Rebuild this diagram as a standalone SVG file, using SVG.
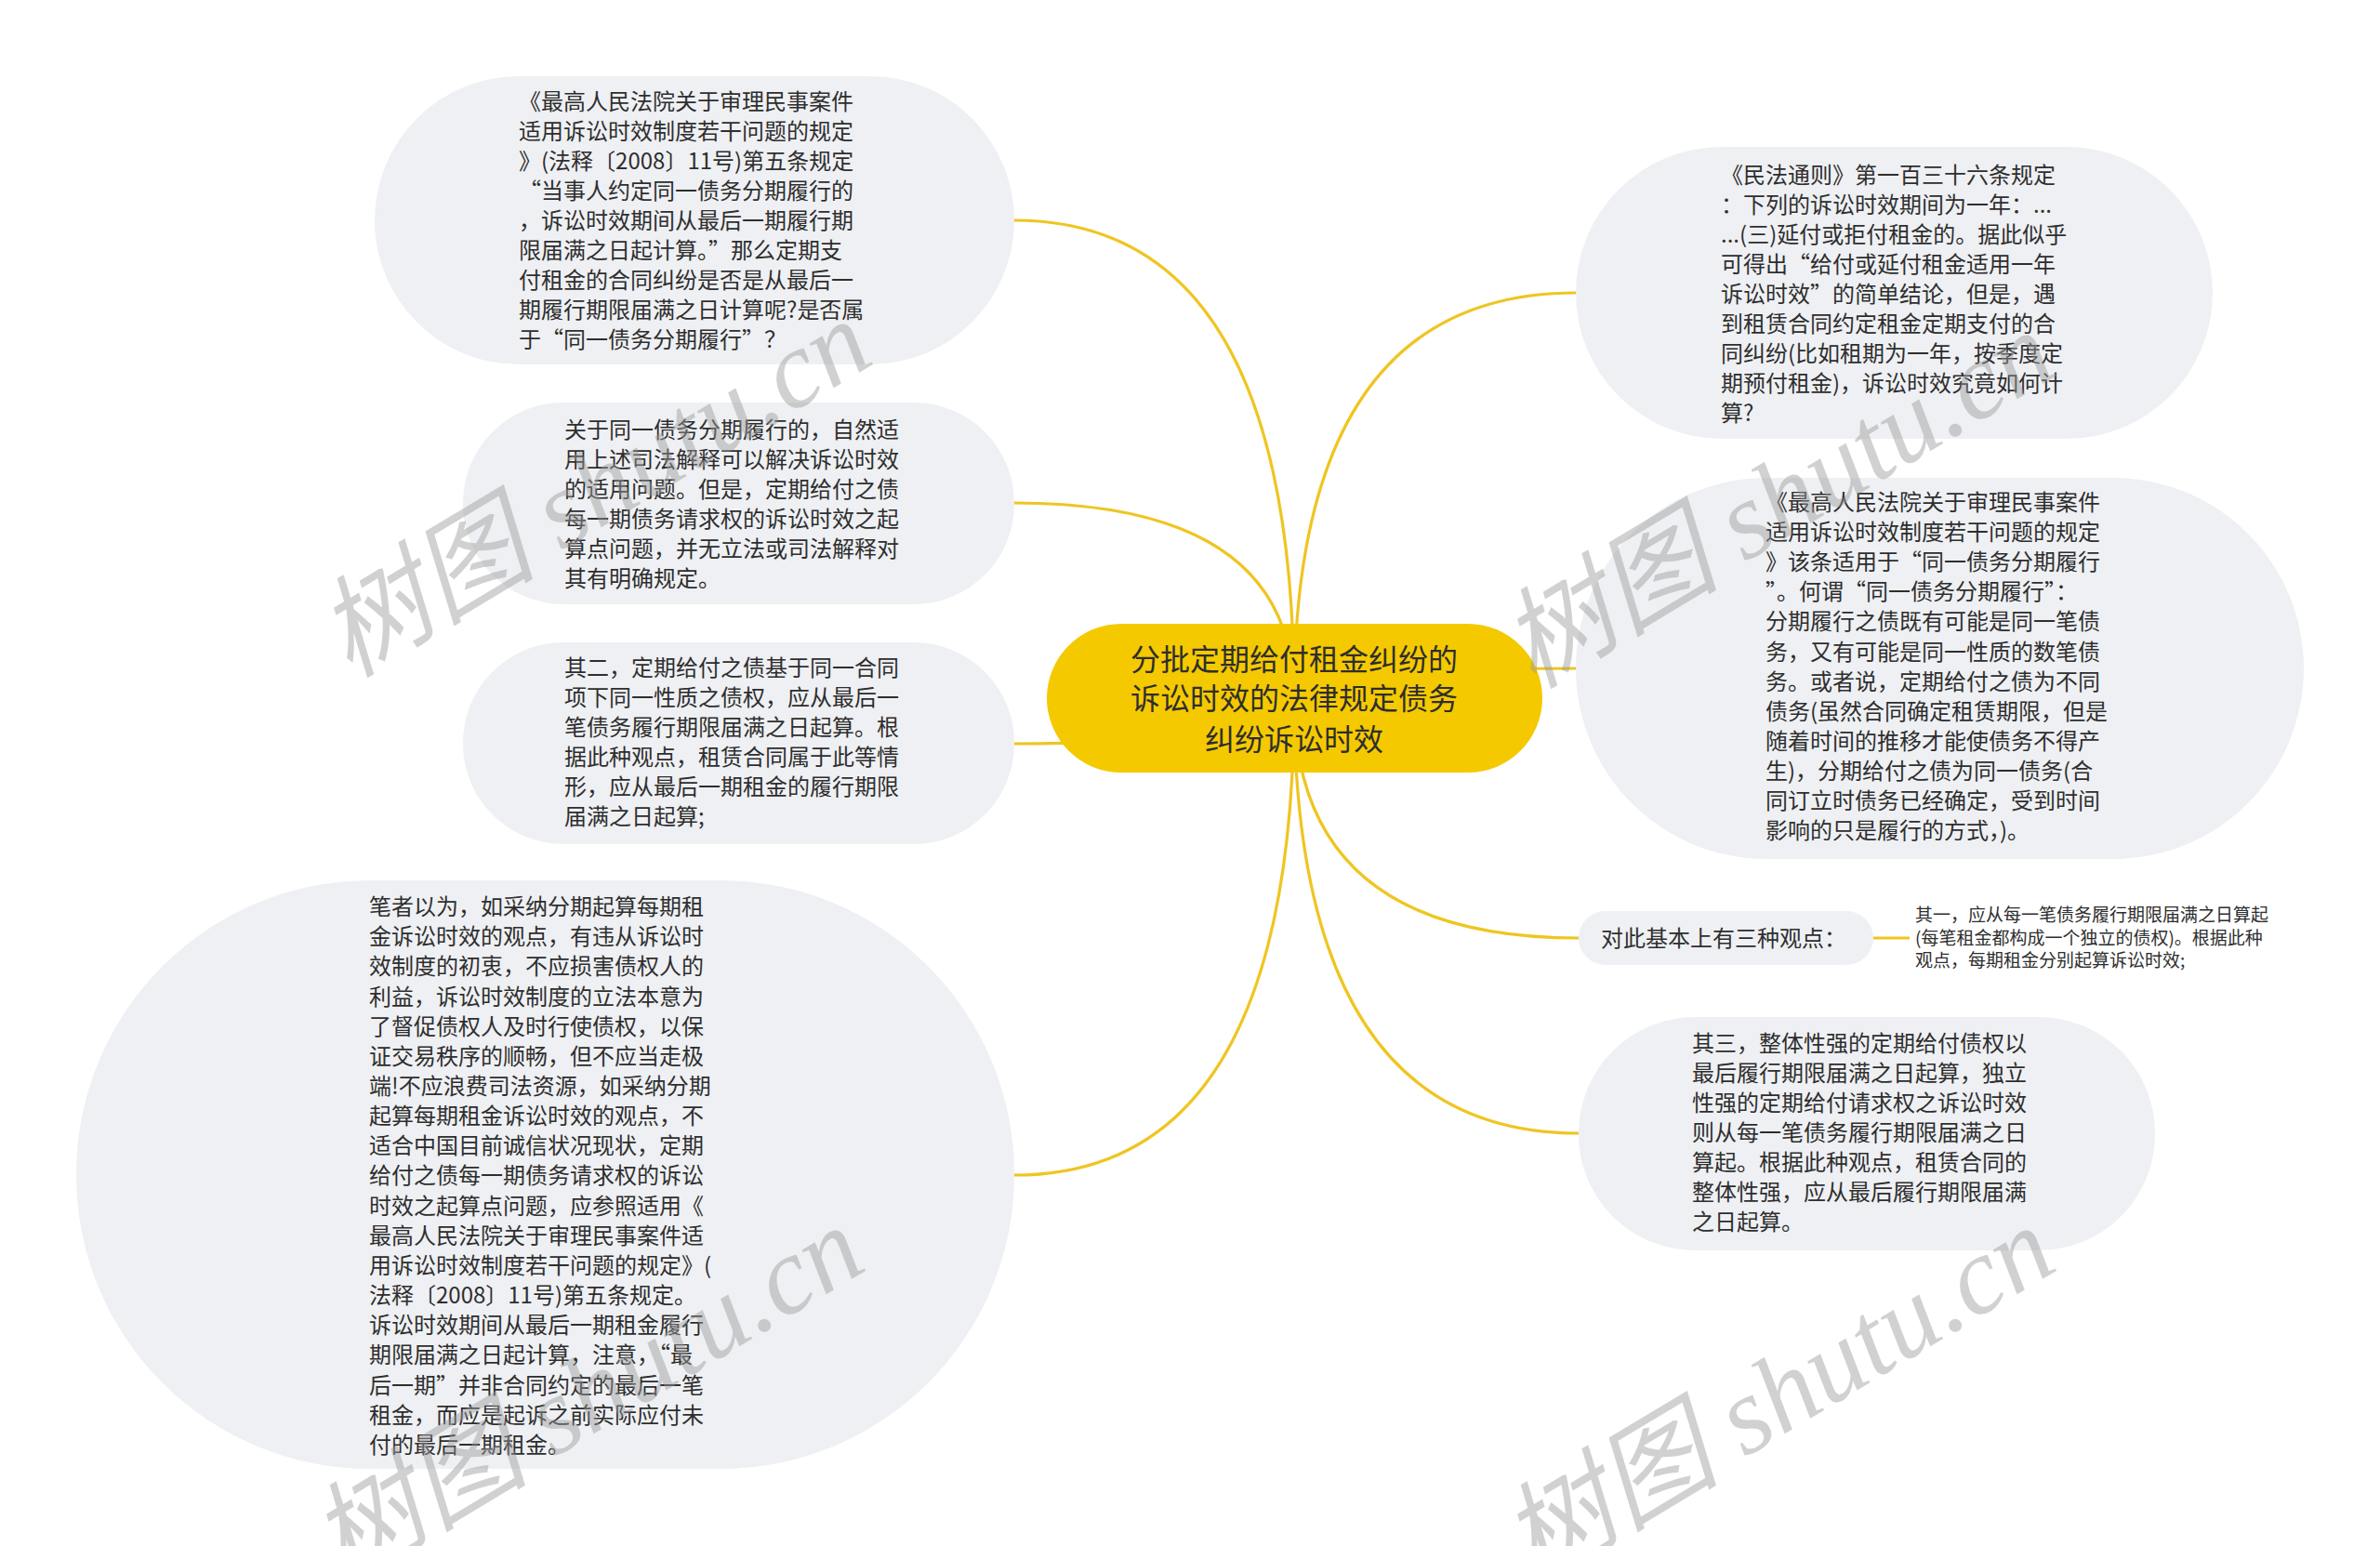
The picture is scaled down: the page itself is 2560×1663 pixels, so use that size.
<svg xmlns="http://www.w3.org/2000/svg" width="2560" height="1663" viewBox="0 0 2560 1663">
<style>
.bg{fill:#ffffff}
.node{fill:#eef0f3}
.root{fill:#f5c900}
.link{fill:none;stroke:#efc521;stroke-width:3.2}
.t{font-family:"Noto Sans CJK SC","Noto Sans",sans-serif;font-size:24px;fill:#2e2e2e}
.rt{font-family:"Noto Sans CJK SC","Noto Sans",sans-serif;font-size:32px;fill:#2e2e2e;text-anchor:middle}
.st{font-family:"Noto Sans CJK SC","Noto Sans",sans-serif;font-size:19px;fill:#2e2e2e}
.wm{font-family:"Liberation Serif","Noto Sans CJK SC",serif;font-style:italic;font-size:118px;fill:#9a9a9a;fill-opacity:0.45}
</style>
<rect class="bg" x="0" y="0" width="2560" height="1663"/>
<g id="connectors">
<path class="link" d="M1392 751 Q1392 237 1091 237"/>
<path class="link" d="M1392 751 Q1392 541 1091 541"/>
<path class="link" d="M1392 751 Q1392 800 1091 800"/>
<path class="link" d="M1392 751 Q1392 1264 1091 1264"/>
<path class="link" d="M1392 751 Q1392 315 1695 315"/>
<path class="link" d="M1392 751 Q1392 719 1695 719"/>
<path class="link" d="M1392 751 Q1392 1009 1698 1009"/>
<path class="link" d="M1392 751 Q1392 1219 1698 1219"/>
<path class="link" d="M2015 1009 L2054 1009"/>
</g>
<g id="root">
<rect class="root" x="1126" y="671" width="533" height="160" rx="80" ry="80"/>
<text class="rt" x="1392" y="721">分批定期给付租金纠纷的</text>
<text class="rt" x="1392" y="763">诉讼时效的法律规定债务</text>
<text class="rt" x="1392" y="807">纠纷诉讼时效</text>
</g>
<g id="n1">
<rect class="node" x="403" y="82" width="688" height="310" rx="155" ry="155"/>
<text class="t" x="558" y="118">《最高人民法院关于审理民事案件</text>
<text class="t" x="558" y="150">适用诉讼时效制度若干问题的规定</text>
<text class="t" x="558" y="182">》(法释〔2008〕11号)第五条规定</text>
<text class="t" x="558" y="214">“当事人约定同一债务分期履行的</text>
<text class="t" x="558" y="246">，诉讼时效期间从最后一期履行期</text>
<text class="t" x="558" y="278">限届满之日起计算。”那么定期支</text>
<text class="t" x="558" y="310">付租金的合同纠纷是否是从最后一</text>
<text class="t" x="558" y="342">期履行期限届满之日计算呢?是否属</text>
<text class="t" x="558" y="374">于“同一债务分期履行”？</text>
</g>
<g id="n2">
<rect class="node" x="498" y="433" width="593" height="217" rx="108" ry="108"/>
<text class="t" x="607" y="471">关于同一债务分期履行的，自然适</text>
<text class="t" x="607" y="503">用上述司法解释可以解决诉讼时效</text>
<text class="t" x="607" y="535">的适用问题。但是，定期给付之债</text>
<text class="t" x="607" y="567">每一期债务请求权的诉讼时效之起</text>
<text class="t" x="607" y="599">算点问题，并无立法或司法解释对</text>
<text class="t" x="607" y="631">其有明确规定。</text>
</g>
<g id="n3">
<rect class="node" x="498" y="691" width="593" height="217" rx="108" ry="108"/>
<text class="t" x="607" y="727">其二，定期给付之债基于同一合同</text>
<text class="t" x="607" y="759">项下同一性质之债权，应从最后一</text>
<text class="t" x="607" y="791">笔债务履行期限届满之日起算。根</text>
<text class="t" x="607" y="823">据此种观点，租赁合同属于此等情</text>
<text class="t" x="607" y="855">形，应从最后一期租金的履行期限</text>
<text class="t" x="607" y="887">届满之日起算;</text>
</g>
<g id="n4">
<rect class="node" x="82" y="947" width="1009" height="633" rx="316" ry="316"/>
<text class="t" x="397" y="984">笔者以为，如采纳分期起算每期租</text>
<text class="t" x="397" y="1016">金诉讼时效的观点，有违从诉讼时</text>
<text class="t" x="397" y="1048">效制度的初衷，不应损害债权人的</text>
<text class="t" x="397" y="1081">利益，诉讼时效制度的立法本意为</text>
<text class="t" x="397" y="1113">了督促债权人及时行使债权，以保</text>
<text class="t" x="397" y="1145">证交易秩序的顺畅，但不应当走极</text>
<text class="t" x="397" y="1177">端!不应浪费司法资源，如采纳分期</text>
<text class="t" x="397" y="1209">起算每期租金诉讼时效的观点，不</text>
<text class="t" x="397" y="1241">适合中国目前诚信状况现状，定期</text>
<text class="t" x="397" y="1273">给付之债每一期债务请求权的诉讼</text>
<text class="t" x="397" y="1306">时效之起算点问题，应参照适用《</text>
<text class="t" x="397" y="1338">最高人民法院关于审理民事案件适</text>
<text class="t" x="397" y="1370">用诉讼时效制度若干问题的规定》(</text>
<text class="t" x="397" y="1402">法释〔2008〕11号)第五条规定。</text>
<text class="t" x="397" y="1434">诉讼时效期间从最后一期租金履行</text>
<text class="t" x="397" y="1466">期限届满之日起计算，注意，“最</text>
<text class="t" x="397" y="1499">后一期”并非合同约定的最后一笔</text>
<text class="t" x="397" y="1531">租金，而应是起诉之前实际应付未</text>
<text class="t" x="397" y="1563">付的最后一期租金。</text>
</g>
<g id="n5">
<rect class="node" x="1695" y="158" width="685" height="314" rx="157" ry="157"/>
<text class="t" x="1851" y="197">《民法通则》第一百三十六条规定</text>
<text class="t" x="1851" y="229">：下列的诉讼时效期间为一年：...</text>
<text class="t" x="1851" y="261">...(三)延付或拒付租金的。据此似乎</text>
<text class="t" x="1851" y="293">可得出“给付或延付租金适用一年</text>
<text class="t" x="1851" y="325">诉讼时效”的简单结论，但是，遇</text>
<text class="t" x="1851" y="357">到租赁合同约定租金定期支付的合</text>
<text class="t" x="1851" y="389">同纠纷(比如租期为一年，按季度定</text>
<text class="t" x="1851" y="421">期预付租金)，诉讼时效究竟如何计</text>
<text class="t" x="1851" y="453">算?</text>
</g>
<g id="n6">
<rect class="node" x="1695" y="514" width="783" height="410" rx="205" ry="205"/>
<text class="t" x="1899" y="549">《最高人民法院关于审理民事案件</text>
<text class="t" x="1899" y="581">适用诉讼时效制度若干问题的规定</text>
<text class="t" x="1899" y="613">》该条适用于“同一债务分期履行</text>
<text class="t" x="1899" y="645">”。何谓“同一债务分期履行”：</text>
<text class="t" x="1899" y="677">分期履行之债既有可能是同一笔债</text>
<text class="t" x="1899" y="710">务，又有可能是同一性质的数笔债</text>
<text class="t" x="1899" y="742">务。或者说，定期给付之债为不同</text>
<text class="t" x="1899" y="774">债务(虽然合同确定租赁期限，但是</text>
<text class="t" x="1899" y="806">随着时间的推移才能使债务不得产</text>
<text class="t" x="1899" y="838">生)，分期给付之债为同一债务(合</text>
<text class="t" x="1899" y="870">同订立时债务已经确定，受到时间</text>
<text class="t" x="1899" y="902">影响的只是履行的方式，)。</text>
</g>
<g id="n7">
<rect class="node" x="1698" y="980" width="317" height="58" rx="29" ry="29"/>
<text class="t" x="1722" y="1018">对此基本上有三种观点：</text>
</g>
<g id="n8">
<text class="st" x="2060" y="991">其一，应从每一笔债务履行期限届满之日算起</text>
<text class="st" x="2060" y="1016">(每笔租金都构成一个独立的债权)。根据此种</text>
<text class="st" x="2060" y="1040">观点，每期租金分别起算诉讼时效;</text>
</g>
<g id="n9">
<rect class="node" x="1698" y="1094" width="620" height="251" rx="125" ry="125"/>
<text class="t" x="1820" y="1131">其三，整体性强的定期给付债权以</text>
<text class="t" x="1820" y="1163">最后履行期限届满之日起算，独立</text>
<text class="t" x="1820" y="1195">性强的定期给付请求权之诉讼时效</text>
<text class="t" x="1820" y="1227">则从每一笔债务履行期限届满之日</text>
<text class="t" x="1820" y="1259">算起。根据此种观点，租赁合同的</text>
<text class="t" x="1820" y="1291">整体性强，应从最后履行期限届满</text>
<text class="t" x="1820" y="1323">之日起算。</text>
</g>
<g id="watermarks">
<text class="wm" transform="translate(376 730) rotate(-31)">树图 shutu.cn</text>
<text class="wm" transform="translate(1649 742) rotate(-31)">树图 shutu.cn</text>
<text class="wm" transform="translate(368 1705) rotate(-31)">树图 shutu.cn</text>
<text class="wm" transform="translate(1649 1705) rotate(-31)">树图 shutu.cn</text>
</g>
</svg>
